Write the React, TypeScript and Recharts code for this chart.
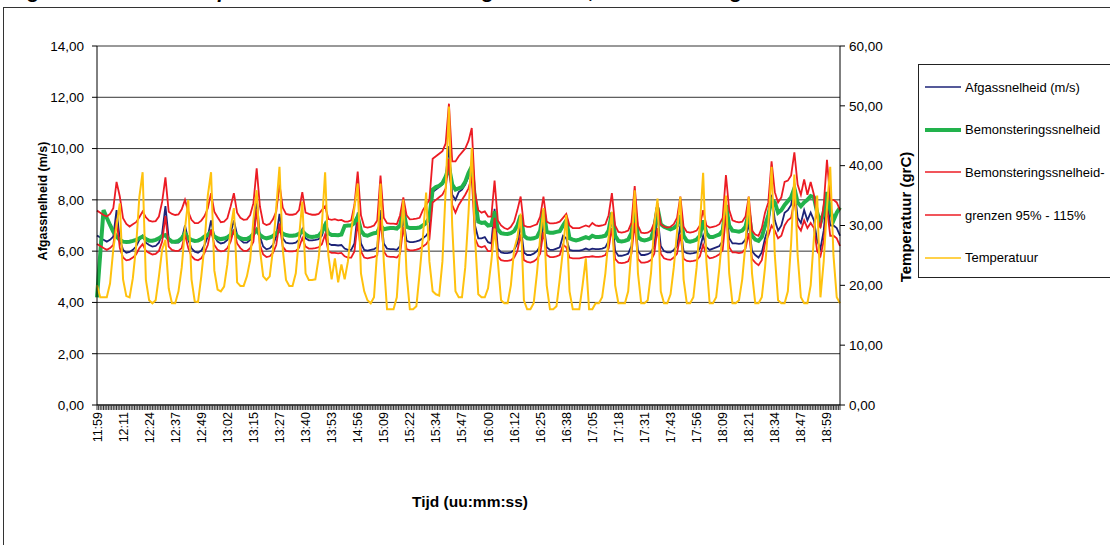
import { LineChart, Line, XAxis, YAxis, CartesianGrid, Legend, Label } from "recharts";

const FONT = "'Liberation Sans', Arial, sans-serif";
const BLUE = "#1d2377";
const GREEN = "#22b24c";
const RED = "#ec1c24";
const YELLOW = "#ffc20e";

// ── x-as: één label per 8 metingen ───────────────────────────────────────────
const STEP = 8;
const timeLabels = [
  "11:59", "12:11", "12:24", "12:37", "12:49", "13:02", "13:15", "13:27",
  "13:40", "13:53", "14:56", "15:09", "15:22", "15:34", "15:47", "16:00",
  "16:12", "16:25", "16:38", "17:05", "17:18", "17:31", "17:43", "17:56",
  "18:09", "18:21", "18:34", "18:47", "18:59",
];

const leftTicks = [0, 2, 4, 6, 8, 10, 12, 14];
const rightTicks = [0, 10, 20, 30, 40, 50, 60];

// ── meetwaarden (m/s) ────────────────────────────────────────────────────────
const afgas = [
  6.61, 6.53, 6.44, 6.37, 6.44, 6.57, 7.6, 6.44, 6.05, 5.94,
  5.97, 6.05, 6.18, 6.44, 6.6, 6.33, 6.24, 6.18, 6.2, 6.33,
  6.7, 7.76, 6.5, 6.37, 6.33, 6.33, 6.44, 7.0, 6.44, 6.11,
  5.98, 5.94, 6.02, 6.24, 6.57, 7.2, 6.57, 6.37, 6.3, 6.33,
  6.44, 6.7, 7.2, 6.63, 6.44, 6.33, 6.33, 6.44, 6.7, 8.05,
  6.57, 6.18, 6.07, 6.11, 6.24, 6.57, 7.45, 6.5, 6.33, 6.3,
  6.3, 6.33, 6.45, 6.85, 6.5, 6.42, 6.42, 6.44, 6.47, 6.6,
  7.0, 6.3, 6.24, 6.24, 6.22, 6.24, 6.1, 6.05, 6.05, 6.3,
  7.5, 6.3, 6.05, 6.02, 6.05, 6.08, 6.15, 7.6, 6.3, 6.1,
  6.08, 6.08, 6.05, 6.2, 7.3, 6.4, 6.35, 6.35, 6.38, 6.42,
  6.5, 6.6, 6.8, 8.3, 8.4, 8.5, 8.6, 8.9, 10.1, 8.2,
  8.0, 8.3, 8.4, 8.6, 8.9, 9.4, 7.0, 6.5, 6.5, 6.55,
  6.35, 6.3, 7.65, 6.1, 5.95, 5.92, 5.92, 5.95, 6.05, 6.3,
  7.0, 5.95, 5.85, 5.85, 5.9, 6.0, 6.2, 7.1, 6.15, 6.05,
  6.05, 6.1, 6.15, 6.6, 6.5, 6.05, 6.02, 6.02, 6.02, 6.05,
  6.1, 6.05, 6.1, 6.08, 6.08, 6.1, 6.15, 6.4, 7.4, 6.0,
  5.82, 5.82, 5.85, 5.9, 6.2, 7.5, 6.0, 5.85, 5.85, 5.88,
  5.95, 6.2, 7.4, 6.2, 6.0, 5.95, 5.95, 6.05, 6.2, 7.0,
  6.0, 5.92, 5.9, 5.92, 5.95, 6.1, 6.6, 6.15, 6.05, 6.1,
  6.15, 6.2, 6.4, 7.8, 6.5, 6.3, 6.3, 6.28, 6.3, 6.45,
  7.1, 6.0, 5.85, 5.75, 5.95, 6.5, 6.9, 8.2, 7.2, 6.8,
  7.0, 7.5, 7.6, 7.8, 8.5, 7.3, 7.1, 7.6, 7.2, 7.5,
  7.2, 6.4, 6.1, 6.8, 8.2, 7.0, 7.0, 6.9, 6.6,
];

const bemonstering = [
  4.2, 5.9, 7.6, 7.3, 7.02, 6.76, 6.57, 6.44, 6.37, 6.36,
  6.37, 6.4, 6.44, 6.5, 6.57, 6.47, 6.41, 6.41, 6.44, 6.5,
  6.59, 6.63, 6.47, 6.37, 6.37, 6.4, 6.5, 6.7, 6.5, 6.44,
  6.4, 6.41, 6.47, 6.57, 6.63, 6.76, 6.57, 6.5, 6.47, 6.49,
  6.54, 6.63, 6.76, 6.59, 6.5, 6.47, 6.47, 6.54, 6.67, 6.83,
  6.63, 6.54, 6.5, 6.53, 6.59, 6.7, 6.83, 6.68, 6.63, 6.6,
  6.6, 6.62, 6.68, 6.78, 6.65, 6.57, 6.55, 6.57, 6.6, 6.75,
  7.02, 6.7, 6.63, 6.63, 6.62, 6.65, 6.98, 7.0, 7.0, 7.1,
  7.35, 6.8, 6.63, 6.6, 6.65, 6.7, 6.72, 7.0, 6.85, 6.88,
  6.9, 6.9, 6.88, 7.0, 7.6, 6.95, 6.9, 6.9, 6.9, 6.92,
  7.0, 7.1, 7.3, 8.4, 8.5, 8.55, 8.65, 8.9, 9.3, 8.6,
  8.4, 8.45, 8.5, 8.7, 9.05, 9.3, 8.0, 7.15, 7.1, 7.12,
  7.0, 7.02, 7.55, 6.85, 6.7, 6.68, 6.67, 6.7, 6.78, 7.0,
  7.4, 6.6, 6.5, 6.48, 6.5, 6.55, 6.8, 7.6, 6.75, 6.72,
  6.72, 6.75, 6.78, 7.0, 7.2, 6.5, 6.45, 6.42, 6.45, 6.5,
  6.55, 6.5, 6.6, 6.55, 6.55, 6.57, 6.6, 6.8, 7.5, 6.6,
  6.4, 6.38, 6.4, 6.45, 6.7, 7.6, 6.55, 6.45, 6.42, 6.45,
  6.5, 6.9, 7.7, 7.05, 6.95, 6.9, 6.85, 6.9, 7.0, 7.4,
  6.6, 6.4, 6.37, 6.4, 6.45, 6.6, 7.2, 6.7, 6.55, 6.55,
  6.6, 6.65, 6.8, 7.8, 7.0, 6.8, 6.78, 6.76, 6.8, 6.95,
  7.5, 6.6, 6.45, 6.4, 6.55, 7.0, 7.4, 8.0, 7.9, 7.5,
  7.6, 7.8, 7.95, 8.1, 8.45, 7.9, 7.75, 7.9, 8.0, 8.15,
  8.1, 7.5, 7.1, 7.5, 8.3, 7.6, 7.2, 7.5, 7.7,
];

// grens 115%
const grensHoog = [
  7.58, 7.5, 7.41, 7.35, 7.45, 7.67, 8.7, 8.13, 7.28, 7.06,
  6.96, 7.05, 7.13, 7.32, 7.54, 7.32, 7.19, 7.15, 7.17, 7.35,
  7.93, 8.88, 7.54, 7.45, 7.41, 7.43, 7.63, 8.0, 7.54, 7.22,
  7.09, 7.09, 7.19, 7.37, 7.67, 8.26, 7.54, 7.32, 7.13, 7.15,
  7.28, 7.74, 8.26, 7.5, 7.3, 7.22, 7.24, 7.41, 7.87, 9.23,
  7.74, 7.09, 7.02, 7.06, 7.24, 7.54, 8.6, 7.7, 7.45, 7.42,
  7.42, 7.45, 7.6, 8.3, 7.5, 7.45, 7.42, 7.42, 7.45, 7.6,
  7.75, 7.25, 7.22, 7.25, 7.2, 7.22, 7.15, 7.15, 7.2, 7.8,
  9.1, 7.4, 6.95, 6.92, 6.95, 7.0, 7.2, 8.95, 7.3, 7.09,
  7.07, 7.07, 7.05, 7.4, 8.1, 7.4, 7.24, 7.25, 7.27, 7.3,
  7.6, 7.8, 8.0, 9.6, 9.7, 9.8, 9.9, 10.2, 11.75, 9.5,
  9.5, 9.7, 9.85, 10.0, 10.3, 10.8, 8.3, 7.6, 7.5, 7.55,
  7.35, 7.35, 8.75, 7.2, 7.0, 6.9, 6.85, 6.95, 7.15, 7.6,
  8.13, 7.0, 6.95, 6.95, 7.0, 7.05, 7.35, 8.13, 7.15, 7.08,
  7.08, 7.1, 7.15, 7.3, 7.45, 7.0, 6.9, 6.9, 6.9, 6.95,
  7.0, 6.95, 7.1, 7.0, 6.98, 7.0, 7.05, 7.4, 8.26, 7.0,
  6.75, 6.72, 6.75, 6.8, 7.1, 8.54, 7.0, 6.72, 6.7, 6.72,
  6.8, 7.1, 7.87, 7.05, 6.95, 6.92, 6.95, 7.05, 7.3, 8.13,
  6.95, 6.75, 6.72, 6.75, 6.8, 7.0, 7.6, 7.0, 6.92, 6.95,
  6.98, 7.05, 7.3, 8.97, 7.6, 7.2, 7.15, 7.12, 7.15, 7.35,
  8.13, 6.8, 6.65, 6.6, 6.9, 7.5, 7.9, 9.5, 8.3, 7.9,
  8.1, 8.7, 8.75, 8.95, 9.85, 8.6, 8.2, 8.8, 8.2, 8.7,
  8.2, 7.3, 6.9, 7.8, 9.56, 8.0, 8.0, 7.9, 7.6,
];

// grens 95%
const grensLaag = [
  6.28, 6.2, 6.12, 6.05, 6.12, 6.24, 7.22, 6.12, 5.75, 5.64,
  5.67, 5.75, 5.87, 6.12, 6.27, 6.01, 5.93, 5.87, 5.89, 6.01,
  6.37, 7.37, 6.18, 6.05, 6.01, 6.01, 6.12, 6.65, 6.12, 5.8,
  5.68, 5.64, 5.72, 5.93, 6.24, 6.84, 6.24, 6.05, 5.99, 6.01,
  6.12, 6.37, 6.84, 6.3, 6.12, 6.01, 6.01, 6.12, 6.37, 7.65,
  6.24, 5.87, 5.77, 5.8, 5.93, 6.24, 7.08, 6.18, 6.01, 5.99,
  5.99, 6.01, 6.13, 6.51, 6.18, 6.1, 6.1, 6.12, 6.15, 6.27,
  6.65, 5.99, 5.93, 5.93, 5.91, 5.93, 5.8, 5.75, 5.75, 5.99,
  7.13, 5.99, 5.75, 5.72, 5.75, 5.78, 5.84, 7.22, 5.99, 5.8,
  5.78, 5.78, 5.75, 5.89, 6.94, 6.08, 6.03, 6.03, 6.06, 6.1,
  6.18, 6.27, 6.46, 7.9, 8.0, 8.1, 8.2, 8.45, 9.6, 7.8,
  7.5, 7.8, 8.0, 8.2, 8.45, 8.9, 6.5, 6.2, 6.15, 6.2,
  6.0, 6.0, 7.3, 5.8, 5.65, 5.62, 5.62, 5.65, 5.75, 6.0,
  6.65, 5.65, 5.58, 5.55, 5.6, 5.7, 5.9, 6.75, 5.85, 5.77,
  5.77, 5.8, 5.85, 6.25, 6.15, 5.75, 5.72, 5.72, 5.72, 5.75,
  5.78, 5.78, 5.8, 5.78, 5.78, 5.8, 5.85, 6.1, 6.9, 5.7,
  5.55, 5.53, 5.55, 5.6, 5.9, 7.1, 5.7, 5.55, 5.55, 5.58,
  5.65, 5.9, 6.9, 5.9, 5.72, 5.68, 5.66, 5.75, 5.9, 6.65,
  5.7, 5.62, 5.6, 5.62, 5.65, 5.8, 6.25, 5.85, 5.72, 5.75,
  5.8, 5.88, 6.05, 7.4, 6.15, 5.95, 5.95, 5.92, 5.95, 6.1,
  6.7, 5.7, 5.55, 5.45, 5.65, 6.3, 6.6, 7.0, 6.8, 6.5,
  6.6, 7.0, 7.2, 7.3, 8.0, 7.0, 6.8, 7.2, 6.9, 7.1,
  6.9, 6.0, 5.8, 6.4, 7.7, 6.6, 6.6, 6.5, 6.2,
];

// temperatuur (grC)
const temperatuur = [
  20, 18, 18, 18, 20.3, 26, 30, 33.7, 21, 18.2,
  18, 21.2, 26.5, 34.8, 38.9, 20.9, 17.5, 17, 17.5, 21.5,
  26, 27.6, 19.5, 17, 17, 19, 23, 29.5, 34.3, 21,
  17.3, 17.2, 21.5, 26.8, 35, 38.9, 22.5, 19.3, 19, 19.8,
  23.5, 29.5, 32.9, 20.5, 19.9, 19.9, 21.5, 24.2, 31, 35.9,
  26, 21.5, 20.9, 21.5, 26, 33, 39.8, 26, 20.9, 19.9,
  19.9, 22, 28, 34, 22, 20.9, 20.9, 21, 24.5, 30,
  38.9, 25, 21, 24.5, 20.5, 23.5, 21, 24, 29, 33,
  37, 22, 19, 17.5, 17, 18, 26, 37, 24, 16,
  16, 16, 18, 26, 34.3, 22, 16, 16, 16.5, 22,
  28, 35.5, 24, 19, 18.5, 18.3, 24, 36, 49.9, 30,
  19, 18, 18, 23, 32, 43, 28, 18.5, 18, 18,
  19.5, 24, 29.5, 24, 17.5, 17, 17, 20, 26, 28,
  32, 17.5, 16, 16, 17, 22, 28, 32.9, 20, 16,
  16, 16.5, 21, 26, 31.8, 19, 16, 16, 16, 20,
  24.5, 16, 16, 17, 17, 18, 22, 28, 32.3, 20,
  17, 17, 17, 19, 26, 35.9, 22, 17, 17, 17.5,
  22, 30, 34.5, 19, 17, 17, 18.5, 23, 29, 34.8,
  21, 17, 17, 18, 23, 30, 38.8, 24, 17, 17,
  18, 23, 29, 35, 22, 17, 17, 17.5, 21, 27,
  34.8, 22, 17, 17, 18, 23, 30, 39.8, 25, 17.5,
  17, 17, 19, 27, 38.5, 25, 18, 17, 17, 20,
  28, 35, 18, 24, 33, 39.8, 25, 18, 17,
];

const data = afgas.map((v, i) => ({
  k: i,
  afgas: v,
  bemon: bemonstering[i],
  hoog: grensHoog[i],
  laag: grensLaag[i],
  temp: temperatuur[i],
}));

// dichte streepjes op de x-as, zoals in Excel
const xTicks = Array.from({ length: (afgas.length - 1) * 2 + 1 }, (_, i) => i / 2);
const lastK = afgas.length - 1;

const fmt = (v: number) => v.toFixed(2).replace(".", ",");

const legendItems = [
  { label: "Afgassnelheid (m/s)", color: BLUE, w: 1.5 },
  { label: "Bemonsteringssnelheid", color: GREEN, w: 4 },
  { label: "Bemonsteringssnelheid-", color: RED, w: 1.5 },
  { label: "grenzen 95% - 115%", color: RED, w: 1.5 },
  { label: "Temperatuur", color: YELLOW, w: 1.5 },
];

function TimeTick({ x, y, payload }: any) {
  const v = payload.value;
  if (v % STEP !== 0) return <g />;
  return (
    <text
      x={x}
      y={y}
      transform={`rotate(-90, ${x}, ${y})`}
      textAnchor="end"
      dy="0.36em"
      fontSize={12.5}
      fontFamily={FONT}
      fill="#000"
    >
      {timeLabels[v / STEP]}
    </text>
  );
}

function LegendBox() {
  return (
    <div
      style={{
        width: 220,
        height: 212,
        border: "1px solid #222",
        background: "#fff",
        boxSizing: "content-box",
        fontFamily: FONT,
        fontSize: 13,
        color: "#000",
      }}
    >
      {legendItems.map((it, i) => (
        <div
          key={i}
          style={{ height: 42.6, display: "flex", alignItems: "center", marginTop: i === 0 ? 1 : 0 }}
        >
          <svg width={46} height={10} style={{ flex: "none" }}>
            <line x1={6} x2={42} y1={5} y2={5} stroke={it.color} strokeWidth={it.w} />
          </svg>
          <span style={{ whiteSpace: "nowrap" }}>{it.label}</span>
        </div>
      ))}
    </div>
  );
}

export default function App() {
  return (
    <div
      style={{
        position: "absolute",
        left: 0,
        top: 0,
        width: 1110,
        height: 545,
        overflow: "hidden",
        background: "#fff",
        fontFamily: FONT,
      }}
    >
      <div
        style={{
          position: "absolute",
          left: 3,
          top: 7,
          width: 1300,
          height: 700,
          borderLeft: "1px solid #333",
          borderTop: "1px solid #333",
        }}
      />
      <div
        style={{
          position: "absolute",
          left: 6,
          top: -19,
          fontSize: 20.5,
          lineHeight: "20.5px",
          fontWeight: "bold",
          fontStyle: "italic",
          whiteSpace: "nowrap",
          color: "#000",
        }}
      >
        Afgassnelheid en temperatuur t.o.v. bemonsteringssnelheid, emissiemeting
      </div>
      <div style={{ position: "absolute", left: 0, top: 0 }}>
        <LineChart
          width={1110}
          height={545}
          data={data}
          margin={{ top: 46, right: 210, bottom: 90, left: 37 }}
        >
          <CartesianGrid yAxisId="left" vertical={false} stroke="#333" strokeWidth={1} />
          <XAxis
            dataKey="k"
            type="number"
            domain={[0, lastK]}
            ticks={xTicks}
            interval={0}
            height={50}
            tick={<TimeTick />}
            tickSize={5}
            tickMargin={2}
            axisLine={{ stroke: "#000" }}
            tickLine={{ stroke: "#333" }}
            label={
              <Label
                content={() => (
                  <text
                    x={470}
                    y={507}
                    textAnchor="middle"
                    fontSize={15.5}
                    fontWeight="bold"
                    fontFamily={FONT}
                    fill="#000"
                  >
                    Tijd (uu:mm:ss)
                  </text>
                )}
              />
            }
          />
          <YAxis
            yAxisId="left"
            domain={[0, 14]}
            ticks={leftTicks}
            interval={0}
            width={60}
            tickFormatter={fmt}
            tickSize={5}
            tickMargin={8}
            tick={{ fontSize: 13.5, fill: "#000", fontFamily: FONT }}
            axisLine={{ stroke: "#000" }}
            tickLine={{ stroke: "#000" }}
            label={
              <Label
                content={() => (
                  <text
                    x={0}
                    y={0}
                    transform="translate(46.5, 201) rotate(-90)"
                    textAnchor="middle"
                    fontSize={12.5}
                    fontWeight="bold"
                    fontFamily={FONT}
                    fill="#000"
                  >
                    Afgassnelheid (m/s)
                  </text>
                )}
              />
            }
          />
          <YAxis
            yAxisId="right"
            orientation="right"
            domain={[0, 60]}
            ticks={rightTicks}
            interval={0}
            width={60}
            tickFormatter={fmt}
            tickSize={5}
            tickMargin={4}
            tick={{ fontSize: 13.5, fill: "#000", fontFamily: FONT }}
            axisLine={{ stroke: "#000" }}
            tickLine={{ stroke: "#000" }}
            label={
              <Label
                content={() => (
                  <text
                    x={0}
                    y={0}
                    transform="translate(910.5, 217) rotate(-90)"
                    textAnchor="middle"
                    fontSize={15}
                    fontWeight="bold"
                    fontFamily={FONT}
                    fill="#000"
                  >
                    Temperatuur (grC)
                  </text>
                )}
              />
            }
          />
          <Legend
            layout="vertical"
            align="center"
            verticalAlign="middle"
            content={() => <LegendBox />}
            wrapperStyle={{ left: 918, top: 64, width: 222, height: 214 }}
          />
          <Line
            yAxisId="left"
            dataKey="afgas"
            stroke={BLUE}
            strokeWidth={1.8}
            dot={false}
            activeDot={false}
            isAnimationActive={false}
          />
          <Line
            yAxisId="left"
            dataKey="bemon"
            stroke={GREEN}
            strokeWidth={4}
            dot={false}
            activeDot={false}
            isAnimationActive={false}
          />
          <Line
            yAxisId="left"
            dataKey="hoog"
            stroke={RED}
            strokeWidth={1.8}
            dot={false}
            activeDot={false}
            isAnimationActive={false}
          />
          <Line
            yAxisId="left"
            dataKey="laag"
            stroke={RED}
            strokeWidth={1.8}
            dot={false}
            activeDot={false}
            isAnimationActive={false}
          />
          <Line
            yAxisId="right"
            dataKey="temp"
            stroke={YELLOW}
            strokeWidth={2}
            dot={false}
            activeDot={false}
            isAnimationActive={false}
          />
        </LineChart>
      </div>
    </div>
  );
}
